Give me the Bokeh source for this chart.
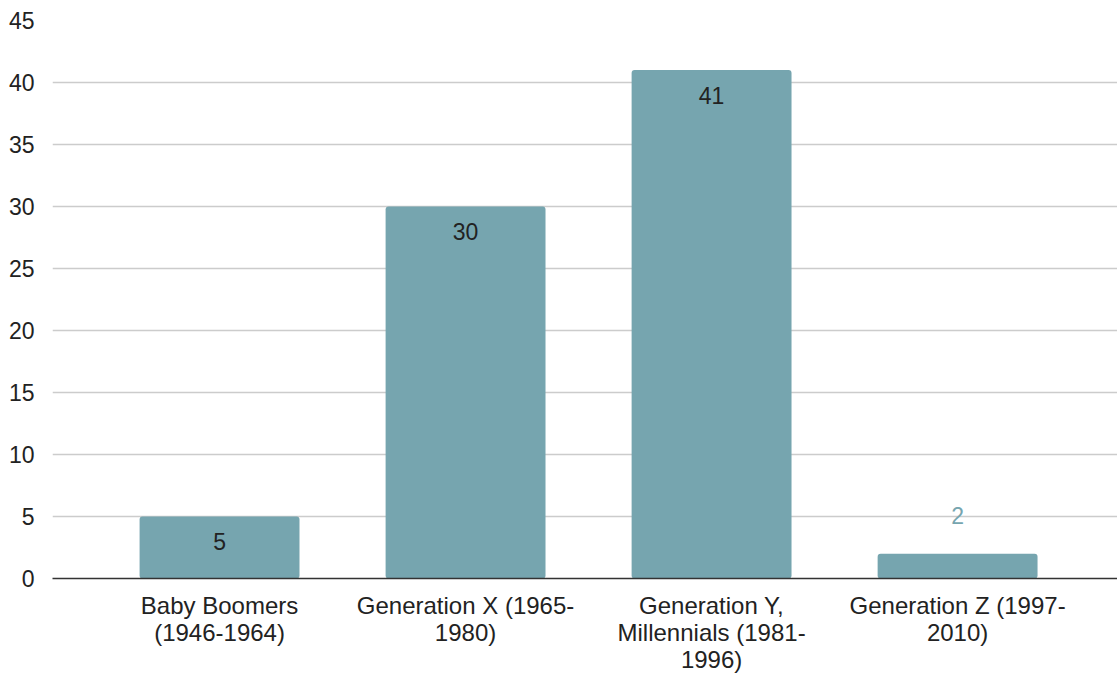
from bokeh.plotting import figure
from bokeh.models import ColumnDataSource, FixedTicker, Range1d
from bokeh.core.properties import value
from bokeh.embed import file_html
from bokeh.resources import INLINE

# Respondents by generation
categories = [
    "Baby Boomers\n(1946-1964)",
    "Generation X (1965-\n1980)",
    "Generation Y,\nMillennials (1981-\n1996)",
    "Generation Z (1997-\n2010)",
]
counts = [5, 30, 41, 2]
y_ticks = [0, 5, 10, 15, 20, 25, 30, 35, 40, 45]

BAR = "#76a5af"
FONT = "Liberation Sans"
SIZE = "23px"

xs = list(range(len(categories)))
inside = [c >= 4 for c in counts]
src = ColumnDataSource(dict(
    x=xs,
    top=counts,
    label=[str(c) for c in counts],
    color=["#222222" if i else BAR for i in inside],
    offset=[25 if i else -38 for i in inside],
))

p = figure(width=1117, height=675, output_backend="svg", toolbar_location=None,
           x_range=Range1d(-0.679, 3.65), y_range=Range1d(0, 45),
           min_border_left=52, min_border_right=0, min_border_top=20,
           min_border_bottom=97)
p.outline_line_color = None
p.background_fill_color = "white"

p.vbar(x="x", top="top", width=0.65, bottom=0, source=src,
       fill_color=BAR, line_color=None, border_radius=3)

p.text(x="x", y="top", text="label", source=src, y_offset="offset",
       text_color="color", text_align="center", text_baseline="middle",
       text_font=value(FONT), text_font_size=SIZE)

# y axis: labels only
p.yaxis.ticker = FixedTicker(ticks=y_ticks)
p.yaxis.axis_line_color = None
p.yaxis.major_tick_line_color = None
p.yaxis.minor_tick_line_color = None
p.yaxis.major_label_text_font = FONT
p.yaxis.major_label_text_font_size = SIZE
p.yaxis.major_label_text_color = "#222222"
p.yaxis.major_label_standoff = 12

# x axis: baseline with category labels
p.xaxis.ticker = FixedTicker(ticks=xs)
p.xaxis.major_label_overrides = {i: c for i, c in zip(xs, categories)}
p.xaxis.axis_line_color = "#333333"
p.xaxis.axis_line_width = 1.5
p.xaxis.major_tick_line_color = None
p.xaxis.minor_tick_line_color = None
p.xaxis.major_label_text_font = FONT
p.xaxis.major_label_text_font_size = "24px"
p.xaxis.major_label_text_line_height = 1.0
p.xaxis.major_label_text_color = "#222222"
p.xaxis.major_label_standoff = 7

p.xgrid.grid_line_color = None
p.ygrid.grid_line_color = "#cccccc"
p.ygrid.grid_line_width = 1.5

open("out.html", "w").write(file_html(p, INLINE))
